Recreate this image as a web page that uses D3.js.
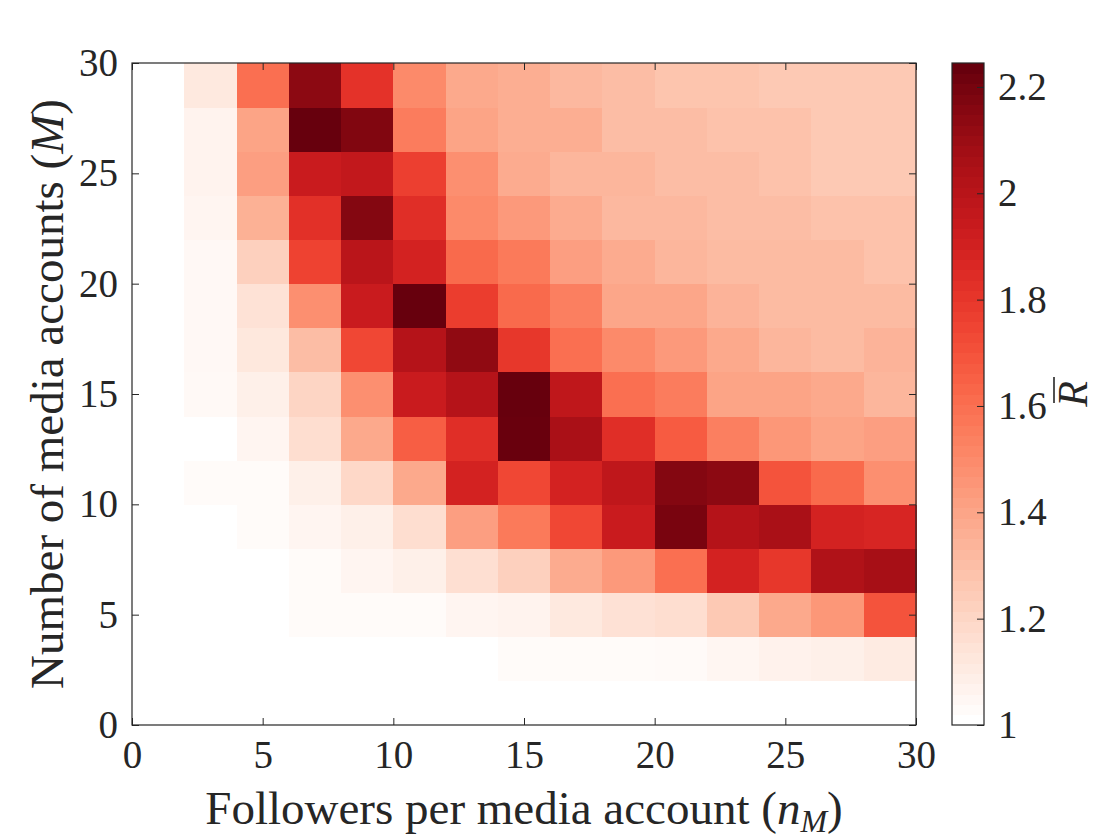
<!DOCTYPE html>
<html>
<head>
<meta charset="utf-8">
<script src="https://cdn.jsdelivr.net/npm/d3@7"></script>
<style>
  html, body { margin: 0; padding: 0; background: #fff; }
  text { font-family: "Liberation Serif", "DejaVu Serif", serif; fill: #262626; }
</style>
</head>
<body>
<svg id="chart" width="1120" height="840"></svg>
<script>
// bin edges (both axes use bins of width 2 from 0 to 30)
const nM_bins = d3.range(0, 30, 2);   // left edge of each followers bin
const M_bins = d3.range(0, 30, 2);    // lower edge of each media-count bin

// mean R, one row per M bin (bottom row first), one value per n_M bin
const R_bar = [
  [1, 1, 1, 1, 1, 1, 1, 1, 1, 1, 1, 1, 1, 1, 1],
  [1, 1, 1, 1, 1, 1, 1, 1.02, 1.02, 1.02, 1.025, 1.045, 1.065, 1.075, 1.10],
  [1, 1, 1, 1.02, 1.02, 1.02, 1.05, 1.06, 1.11, 1.145, 1.16, 1.25, 1.38, 1.45, 1.70],
  [1, 1, 1, 1.02, 1.05, 1.075, 1.155, 1.22, 1.37, 1.44, 1.60, 1.90, 1.80, 2.04, 2.07],
  [1, 1, 1.02, 1.05, 1.075, 1.16, 1.42, 1.56, 1.74, 1.94, 2.20, 2.02, 2.06, 1.90, 1.88],
  [1, 1.02, 1.02, 1.075, 1.185, 1.38, 1.90, 1.74, 1.90, 1.98, 2.17, 2.15, 1.70, 1.62, 1.48],
  [1, 1, 1.05, 1.16, 1.38, 1.66, 1.84, 2.24, 2.06, 1.84, 1.67, 1.54, 1.45, 1.40, 1.42],
  [1, 1.03, 1.075, 1.20, 1.48, 1.94, 2.02, 2.245, 1.98, 1.60, 1.55, 1.40, 1.40, 1.38, 1.33],
  [1, 1.035, 1.115, 1.30, 1.74, 2.02, 2.14, 1.80, 1.60, 1.50, 1.44, 1.38, 1.33, 1.31, 1.34],
  [1, 1.035, 1.14, 1.48, 1.94, 2.245, 1.78, 1.62, 1.54, 1.39, 1.39, 1.34, 1.31, 1.31, 1.31],
  [1, 1.035, 1.22, 1.76, 2.00, 1.90, 1.62, 1.56, 1.42, 1.37, 1.33, 1.31, 1.31, 1.31, 1.28],
  [1, 1.05, 1.35, 1.83, 2.17, 1.84, 1.50, 1.44, 1.37, 1.32, 1.32, 1.30, 1.30, 1.28, 1.28],
  [1, 1.06, 1.42, 1.94, 1.97, 1.77, 1.48, 1.37, 1.33, 1.33, 1.30, 1.30, 1.28, 1.25, 1.25],
  [1, 1.06, 1.40, 2.245, 2.18, 1.55, 1.40, 1.36, 1.36, 1.30, 1.30, 1.28, 1.28, 1.25, 1.25],
  [1, 1.11, 1.60, 2.15, 1.82, 1.50, 1.38, 1.36, 1.32, 1.30, 1.27, 1.27, 1.25, 1.25, 1.25]
];

const axisTicks = [0, 5, 10, 15, 20, 25, 30];
const cbarTicks = [1, 1.2, 1.4, 1.6, 1.8, 2, 2.2];
const cLimits = [1, 2.245];

const svg = d3.select("#chart");
const ink = "#262626";

const pL = 132, pR = 916, pT = 63, pB = 725;
const x = d3.scaleLinear().domain([0, 30]).range([pL, pR]);
const y = d3.scaleLinear().domain([0, 30]).range([pB, pT]);

// Reds with a white start
const reds = d3.interpolateRgbBasis(["#ffffff", "#fee0d2", "#fcbba1", "#fc9272",
  "#fb6a4a", "#ef3b2c", "#cb181d", "#a50f15", "#67000d"]);
const color = d3.scaleSequential(reds).domain(cLimits).clamp(true);
const nLevels = 64; // colorbar drawn as discrete bands

const cells = [];
R_bar.forEach((row, i) => {
  row.forEach((v, j) => cells.push({ nM: nM_bins[j], M: M_bins[i], v }));
});

svg.append("rect").attr("width", 1120).attr("height", 840).attr("fill", "#fff");

svg.append("g")
  .attr("shape-rendering", "crispEdges")
  .selectAll("rect")
  .data(cells)
  .join("rect")
  .attr("x", (d) => x(d.nM))
  .attr("y", (d) => y(d.M + 2))
  .attr("width", (d) => x(d.nM + 2) - x(d.nM) + 0.5)
  .attr("height", (d) => y(d.M) - y(d.M + 2) + 0.5)
  .attr("fill", (d) => color(d.v));

// axes with inward ticks, box on
const fs = 39;
const styleAxis = (g, labels) => {
  g.select(".domain").remove();
  g.selectAll(".tick line").attr("stroke", ink);
  if (labels) g.selectAll(".tick text").attr("font-size", fs).attr("fill", ink);
  else g.selectAll(".tick text").remove();
};

svg.append("g")
  .attr("transform", `translate(0,${pB})`)
  .call(d3.axisBottom(x).tickValues(axisTicks).tickSize(-7).tickPadding(15))
  .call((g) => styleAxis(g, true));
svg.append("g")
  .attr("transform", `translate(0,${pT})`)
  .call(d3.axisTop(x).tickValues(axisTicks).tickSize(-7))
  .call((g) => styleAxis(g, false));
svg.append("g")
  .attr("transform", `translate(${pL},0)`)
  .call(d3.axisLeft(y).tickValues(axisTicks).tickSize(-7).tickPadding(14))
  .call((g) => styleAxis(g, true));
svg.append("g")
  .attr("transform", `translate(${pR},0)`)
  .call(d3.axisRight(y).tickValues(axisTicks).tickSize(-7))
  .call((g) => styleAxis(g, false));

svg.append("rect")
  .attr("x", pL).attr("y", pT)
  .attr("width", pR - pL).attr("height", pB - pT)
  .attr("fill", "none").attr("stroke", ink).attr("stroke-width", 1.2);

// axis labels
const xl = svg.append("text")
  .attr("x", (pL + pR) / 2).attr("y", 824)
  .attr("text-anchor", "middle").attr("font-size", 47);
xl.append("tspan").text("Followers per media account (");
xl.append("tspan").attr("font-style", "italic").text("n");
xl.append("tspan").attr("font-style", "italic").attr("font-size", 32).attr("dy", 8).text("M");
xl.append("tspan").attr("dy", -8).text(")");

const yl = svg.append("text")
  .attr("transform", `translate(63,${(pT + pB) / 2}) rotate(-90)`)
  .attr("text-anchor", "middle").attr("font-size", 47);
yl.append("tspan").text("Number of media accounts (");
yl.append("tspan").attr("font-style", "italic").text("M");
yl.append("tspan").text(")");

// colorbar
const cbL = 952, cbR = 984;
const cy = d3.scaleLinear().domain(cLimits).range([pB, pT]);
const bands = d3.range(nLevels);
const cbg = svg.append("g").attr("shape-rendering", "crispEdges");
cbg.selectAll("rect")
  .data(bands)
  .join("rect")
  .attr("x", cbL)
  .attr("width", cbR - cbL)
  .attr("y", (k) => cy(cLimits[0] + (k + 1) / nLevels * (cLimits[1] - cLimits[0])))
  .attr("height", (pB - pT) / nLevels + 0.6)
  .attr("fill", (k) => reds(k / (nLevels - 1)));

svg.append("g")
  .attr("transform", `translate(${cbR},0)`)
  .call(d3.axisRight(cy).tickValues(cbarTicks).tickSize(-7).tickPadding(14)
    .tickFormat(d3.format("~g")))
  .call((g) => styleAxis(g, true));

svg.append("rect")
  .attr("x", cbL).attr("y", pT)
  .attr("width", cbR - cbL).attr("height", pB - pT)
  .attr("fill", "none").attr("stroke", ink).attr("stroke-width", 1.2);

// colorbar label: R with a bar over it, read bottom to top
const rl = svg.append("g")
  .attr("transform", `translate(1087,${(pT + pB) / 2}) rotate(-90)`);
rl.append("text")
  .attr("text-anchor", "middle").attr("font-size", 42)
  .attr("font-style", "italic")
  .text("R");
rl.append("line")
  .attr("x1", -9).attr("x2", 17)
  .attr("y1", -33).attr("y2", -33)
  .attr("stroke", ink).attr("stroke-width", 1.6);
</script>
</body>
</html>
